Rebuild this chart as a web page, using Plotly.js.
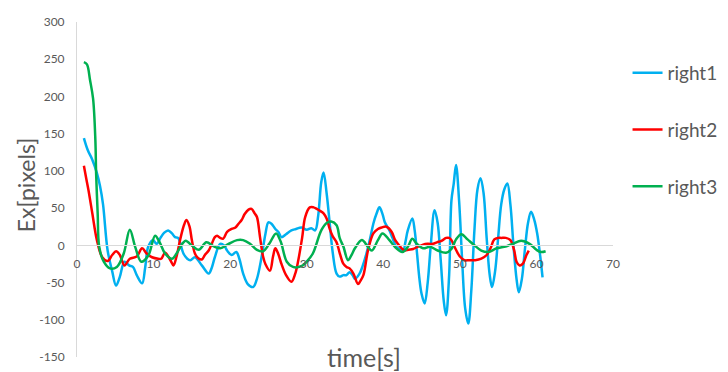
<!DOCTYPE html>
<html>
<head>
<meta charset="utf-8">
<script src="https://cdn.plot.ly/plotly-3.0.1.min.js"></script>
<style>html,body{margin:0;padding:0;background:#fff;}#chart{width:728px;height:372px;}</style>
</head>
<body>
<div id="chart"></div>
<script>
// ---- data ----
const seriesNames = ["right1", "right2", "right3"];
const seriesColors = ["#00B0F0", "#FF0000", "#00B050"];
const xTickVals = [0, 10, 20, 30, 40, 50, 60, 70];
const yTickVals = [-150, -100, -50, 0, 50, 100, 150, 200, 250, 300];
const xTitle = "time[s]";
const yTitle = "Ex[pixels]";

const right1X = [0.9,1.4,2.0,2.6,3.0,3.4,4.0,4.6,5.1,5.6,6.2,6.8,7.3,7.8,8.5,8.9,9.3,9.9,10.4,10.9,11.4,11.9,12.4,12.8,13.2,13.9,14.4,14.8,15.4,16.3,17.2,17.6,18.0,18.7,19.2,19.6,20.2,20.8,21.2,21.7,22.3,23.0,23.5,24.1,24.6,25.0,25.4,25.9,26.3,26.7,27.3,28.0,28.6,29.3,30.0,30.6,31.1,31.5,31.9,32.2,32.6,33.0,33.4,33.9,34.3,34.8,35.2,35.6,36.0,36.3,36.9,37.3,37.8,38.3,38.7,39.1,39.5,39.9,40.2,40.8,41.2,41.7,42.2,42.6,42.9,43.2,43.8,44.1,44.4,44.7,45.0,45.4,45.8,46.2,46.7,47.1,47.5,47.9,48.2,48.6,48.9,49.2,49.5,49.9,50.3,50.7,51.1,51.5,51.9,52.3,52.7,53.1,53.5,53.9,54.2,54.6,55.0,55.4,55.8,56.2,56.6,57.0,57.4,57.7,58.1,58.5,58.9,59.3,59.7,60.1,60.5,60.8];
const right1Y = [144,128,115,97,80,55,-7,-35,-54,-42,-22,-27,-29,-40,-51,-30,-2,7,2,10,17,20,16,11,10,-11,-18,-20,-16,-27,-38,-30,-16,2,0,-7,-13,-9,-18,-38,-52,-56,-45,-16,15,31,29,22,18,11,15,20,22,24,21,23,20,40,85,98,70,30,-10,-38,-42,-40,-40,-36,-40,-45,-38,-28,-11,10,29,42,51,42,31,20,10,-2,-5,-7,5,20,36,20,-10,-43,-65,-78,-50,0,47,30,-20,-75,-94,-40,60,83,108,60,-20,-85,-105,-60,20,75,90,70,10,-40,-56,-35,10,55,75,83,55,0,-45,-63,-45,-5,30,45,35,16,-15,-43];

const right2X = [0.9,1.2,1.5,2.0,2.6,3.3,4.0,4.6,5.1,5.6,6.2,6.9,7.8,8.5,9.1,9.8,10.6,11.0,11.5,12.2,12.6,13.0,13.5,14.0,14.3,14.7,15.0,15.4,15.8,16.3,16.7,17.2,17.6,18.0,18.3,18.7,19.1,19.6,20.2,20.7,21.1,21.5,21.9,22.4,22.8,23.2,23.5,23.9,24.3,24.6,25.2,25.6,25.9,26.3,26.7,27.3,28.0,28.5,28.9,29.4,29.8,30.4,30.9,31.3,31.8,32.2,32.6,33.0,33.4,33.9,34.3,34.8,35.2,35.6,36.1,36.7,37.0,37.4,38.0,38.7,39.3,39.8,40.4,41.1,41.5,41.9,42.4,42.8,43.3,43.9,44.5,45.2,45.8,46.5,47.0,47.6,48.2,48.6,48.9,49.3,49.7,50.0,50.6,51.2,52.0,52.8,53.5,54.0,54.5,55.0,55.4,56.0,56.6,57.1,57.4,57.8,58.2,58.7,59.0];
const right2Y = [107,90,74,43,7,-16,-21,-13,-8,-13,-27,-18,-15,-4,-11,-16,-18,-18,-10,-20,-27,-15,9,28,34,25,7,-11,-17,-19,-13,-7,2,11,13,10,9,18,22,24,29,34,42,48,49,43,38,11,-15,-25,-34,-15,-4,-12,-25,-40,-49,-38,-20,10,38,51,51,49,46,43,36,22,12,4,-10,-25,-29,-31,-38,-52,-48,-40,-7,16,22,24,25,18,8,2,-4,-7,-6,-5,-2,1,2,2,4,6,10,10,7,-2,-10,-15,-20,-20,-20,-18,-13,-4,8,10,10,10,7,-7,-22,-27,-25,-13,-7];

const right3X = [0.9,1.3,1.7,2.1,2.4,2.5,2.7,2.9,3.5,4.3,5.2,6.1,6.9,7.6,8.4,9.3,10.2,10.8,11.5,12.4,13.0,13.9,14.2,15.2,15.9,16.9,17.8,18.7,19.8,20.9,21.7,22.6,23.5,24.3,25.1,26.0,26.6,27.4,28.2,29.3,30.0,30.8,31.9,32.6,33.2,33.9,34.3,34.8,35.4,35.9,36.3,37.2,38.0,38.5,39.3,39.9,40.8,41.6,42.5,43.2,43.8,44.3,45.2,46.1,47.1,48.2,48.9,49.5,50.2,51.0,51.9,52.8,53.7,54.8,55.8,56.9,58.0,59.1,60.0,60.6,61.2];
const right3Y = [246,243,222,197,141,96,43,-2,-22,-31,-29,-11,21,-2,-22,-14,13,4,-11,-18,-11,4,6,-2,-6,4,-1,-4,2,7,7,2,-6,-8,2,16,5,-22,-29,-28,-22,-11,20,30,32,27,10,-2,-20,-12,-4,7,-2,-7,7,16,7,-3,-9,-2,9,3,-4,-2,-7,-10,-5,8,15,8,0,-7,-9,-4,-2,2,6,2,-6,-9,-8];

const xs = [right1X, right2X, right3X];
const ys = [right1Y, right2Y, right3Y];

const FONT = "Lato, 'Open Sans', 'Liberation Sans', sans-serif";
const GREY = "#595959";

const traces = seriesNames.map((name, i) => ({
  type: "scatter",
  mode: "lines",
  name: name,
  x: xs[i],
  y: ys[i],
  legendgroup: name,
  line: { color: seriesColors[i], width: 2.5, shape: "spline", smoothing: 1 },
  hoverinfo: "x+y+name"
}));

const layout = {
  width: 728,
  height: 372,
  margin: { l: 77, r: 115, t: 22, b: 15, pad: 0, autoexpand: false },
  paper_bgcolor: "#ffffff",
  plot_bgcolor: "#ffffff",
  font: { family: FONT, color: GREY, size: 12 },
  showlegend: true,
  legend: {
    xref: "container", yref: "container",
    x: 0.862, xanchor: "left",
    y: 0.855, yanchor: "top",
    traceorder: "grouped",
    tracegroupgap: 29,
    font: { family: FONT, size: 19, color: GREY },
    bgcolor: "rgba(0,0,0,0)",
    itemwidth: 30
  },
  xaxis: {
    range: [0, 70],
    tickvals: xTickVals,
    ticktext: xTickVals.map(String),
    anchor: "free",
    position: 1 / 3,
    showgrid: false,
    zeroline: false,
    showline: true,
    linecolor: "#d9d9d9",
    linewidth: 1,
    ticks: "",
    ticklabelstandoff: 7,
    tickfont: { family: FONT, size: 12, color: GREY },
    automargin: false
  },
  yaxis: {
    range: [-150, 300],
    tickvals: yTickVals,
    ticktext: yTickVals.map(String),
    showgrid: false,
    zeroline: false,
    showline: true,
    linecolor: "#d9d9d9",
    linewidth: 1,
    ticks: "",
    ticklabelstandoff: 9,
    tickfont: { family: FONT, size: 12, color: GREY },
    automargin: false
  },
  annotations: [
    {
      text: xTitle, xref: "paper", yref: "paper",
      x: 0.535, y: 0, xanchor: "center", yanchor: "middle",
      showarrow: false, font: { family: FONT, size: 25, color: GREY }
    },
    {
      text: yTitle, xref: "paper", yref: "paper",
      x: -0.0951, y: 0.513, xanchor: "center", yanchor: "middle",
      textangle: -90,
      showarrow: false, font: { family: FONT, size: 23, color: GREY }
    }
  ]
};

Plotly.newPlot("chart", traces, layout, { displayModeBar: false, staticPlot: true });
</script>
</body>
</html>
